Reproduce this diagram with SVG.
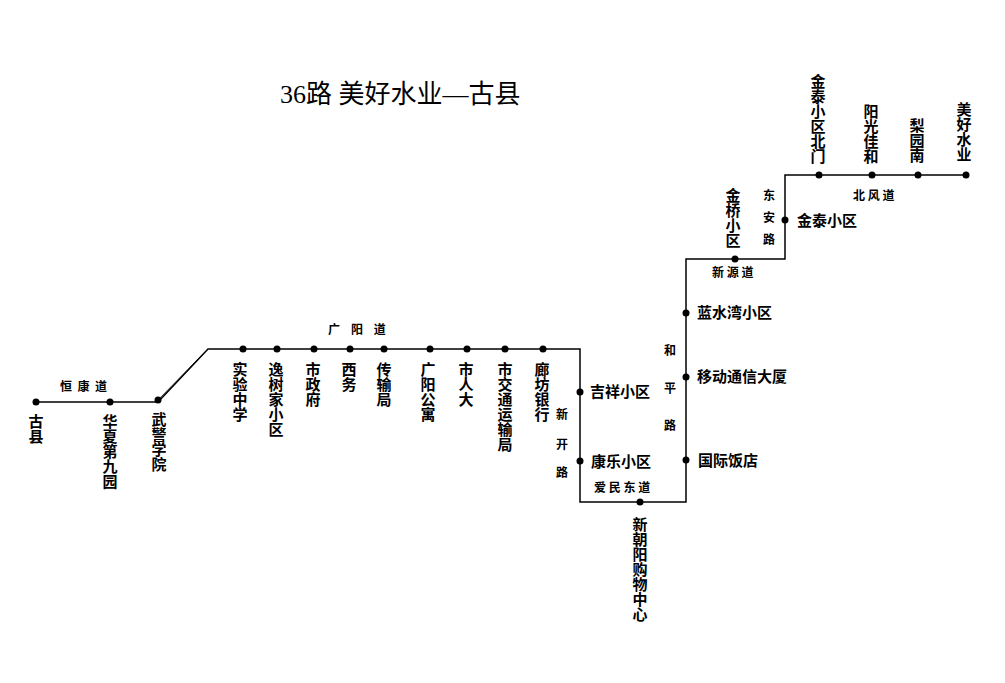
<svg xmlns="http://www.w3.org/2000/svg" width="1005" height="683" viewBox="0 0 1005 683">
<style>
.l{fill:none;stroke:#000;stroke-width:1.5}
.s{font-family:"Noto Sans CJK SC",sans-serif;font-size:15px;font-weight:bold;fill:#000}
.r{font-family:"Noto Sans CJK SC",sans-serif;font-size:12px;font-weight:bold;fill:#000}
.v{writing-mode:tb;glyph-orientation-vertical:0}
</style>
<rect width="1005" height="683" fill="#fff"/>
<text x="280" y="103" style="font-family:'Liberation Serif','Noto Sans CJK SC',serif;font-size:26px">36路 美好水业—古县</text>
<g id="connectors">
<polyline class="l" points="36,402 158,402 208,349 580,349 580,502 686,502 686,259 785,259 785,175 966,175"/>
<line x1="158" y1="400" x2="208" y2="349" stroke="#000" stroke-width="0.8"/>
</g>
<g id="roads" class="r">
<text x="60" y="391" xml:space="preserve">恒  康  道</text>
<text x="328" y="334" xml:space="preserve">广    阳    道</text>
<text x="556" y="419">新</text><text x="556" y="449">开</text><text x="556" y="477">路</text>
<text x="594" y="492" xml:space="preserve">爱 民 东 道</text>
<text x="664" y="355">和</text><text x="664" y="393">平</text><text x="664" y="430">路</text>
<text x="712" y="277" xml:space="preserve">新 源 道</text>
<text x="763" y="200">东</text><text x="763" y="222">安</text><text x="763" y="244">路</text>
<text x="853" y="200" xml:space="preserve">北 风 道</text>
</g>
<g id="stops" class="s">
<g id="n1"><circle cx="36" cy="402" r="3.5"/><text class="v" x="36" y="414">古县</text></g>
<g id="n2"><circle cx="110" cy="402" r="3.5"/><text class="v" x="110" y="414">华夏第九园</text></g>
<g id="n3"><circle cx="158" cy="400" r="3.5"/><text class="v" x="159" y="412">武警学院</text></g>
<g id="n4"><circle cx="243" cy="349" r="3.5"/><text class="v" x="240" y="362">实验中学</text></g>
<g id="n5"><circle cx="277" cy="349" r="3.5"/><text class="v" x="276" y="362">逸树家小区</text></g>
<g id="n6"><circle cx="314" cy="349" r="3.5"/><text class="v" x="313" y="362">市政府</text></g>
<g id="n7"><circle cx="350" cy="349" r="3.5"/><text class="v" x="349" y="362">西务</text></g>
<g id="n8"><circle cx="384" cy="349" r="3.5"/><text class="v" x="384" y="362">传输局</text></g>
<g id="n9"><circle cx="430" cy="349" r="3.5"/><text class="v" x="428" y="362">广阳公寓</text></g>
<g id="n10"><circle cx="467" cy="349" r="3.5"/><text class="v" x="466" y="362">市人大</text></g>
<g id="n11"><circle cx="505" cy="349" r="3.5"/><text class="v" x="505" y="362">市交通运输局</text></g>
<g id="n12"><circle cx="543" cy="349" r="3.5"/><text class="v" x="542" y="362">廊坊银行</text></g>
<g id="n13"><circle cx="580" cy="392" r="3.5"/><text x="590" y="397">吉祥小区</text></g>
<g id="n14"><circle cx="580" cy="461" r="3.5"/><text x="591" y="467">康乐小区</text></g>
<g id="n15"><circle cx="640" cy="502" r="3.5"/><text class="v" x="640" y="517">新朝阳购物中心</text></g>
<g id="n16"><circle cx="686" cy="460" r="3.5"/><text x="698" y="466">国际饭店</text></g>
<g id="n17"><circle cx="686" cy="377" r="3.5"/><text x="697" y="382">移动通信大厦</text></g>
<g id="n18"><circle cx="686" cy="313" r="3.5"/><text x="697" y="318">蓝水湾小区</text></g>
<g id="n19"><circle cx="735" cy="259" r="3.5"/><text class="v" x="733" y="188">金桥小区</text></g>
<g id="n20"><circle cx="785" cy="220" r="3.5"/><text x="797" y="226">金泰小区</text></g>
<g id="n21"><circle cx="819" cy="175" r="3.5"/><text class="v" x="818" y="74">金泰小区北门</text></g>
<g id="n22"><circle cx="872" cy="175" r="3.5"/><text class="v" x="871" y="104">阳光佳和</text></g>
<g id="n23"><circle cx="918" cy="175" r="3.5"/><text class="v" x="917" y="118">梨园南</text></g>
<g id="n24"><circle cx="966" cy="175" r="3.5"/><text class="v" x="964" y="102">美好水业</text></g>
</g>
</svg>
